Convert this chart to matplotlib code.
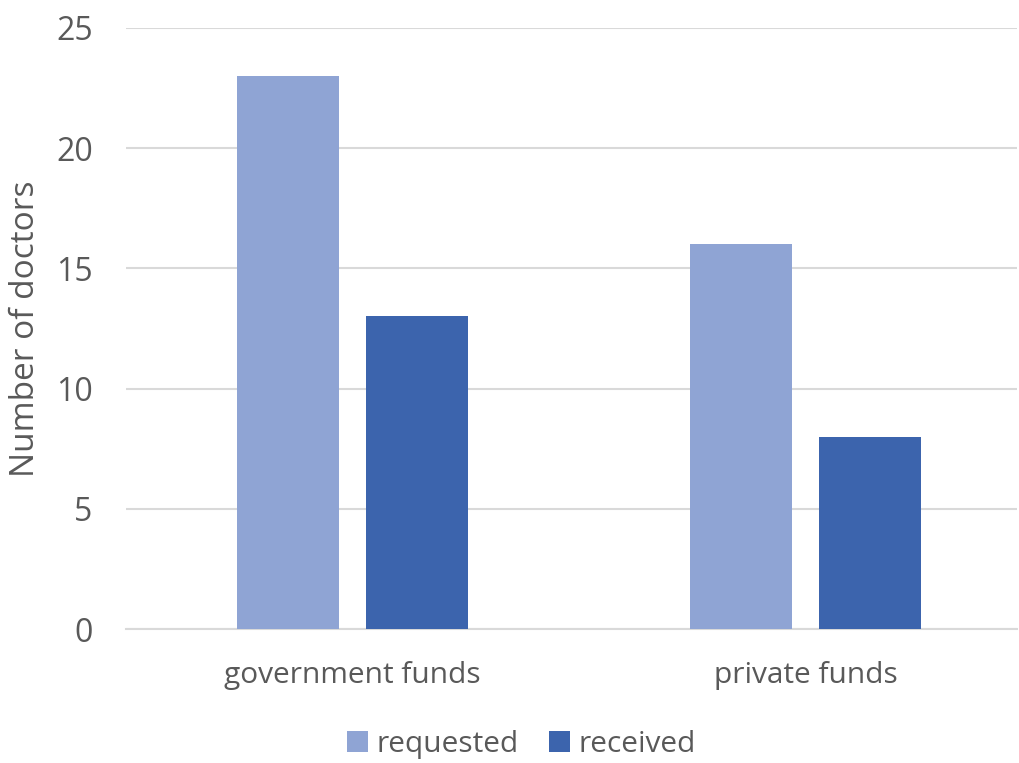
import matplotlib.pyplot as plt
import numpy as np

categories = ["government funds", "private funds"]
requested = [23, 16]
received = [13, 8]

plt.rcParams['font.family'] = ['Open Sans', 'DejaVu Sans']
grey = '#595959'

fig = plt.figure(figsize=[10.19, 7.63], dpi=100)
ax = fig.add_axes((126/1019, 134/763, 891/1019, 601/763))

x = np.arange(len(categories))
w = 0.225
ax.bar(x - 0.142, requested, w, color='#8FA4D4', label='requested', zorder=3)
ax.bar(x + 0.142, received, w, color='#3C64AD', label='received', zorder=3)

ax.set_xlim(-0.5, 1.467)
ax.set_ylim(0, 25)
ax.set_yticks([0, 5, 10, 15, 20, 25])
ax.set_xticks(x)
ax.set_xticklabels(categories)
ax.yaxis.grid(True, color='#D9D9D9', lw=1.5, zorder=0)
for s in ['top', 'right', 'left']:
    ax.spines[s].set_visible(False)
ax.spines['bottom'].set_color('#D9D9D9')
ax.spines['bottom'].set_linewidth(1.5)
ax.tick_params(axis='both', length=0, colors=grey)
ax.tick_params(axis='y', pad=24, labelsize=23)
ax.tick_params(axis='x', pad=23, labelsize=21.5)
ax.set_ylabel('Number of doctors', fontsize=24, color=grey, labelpad=10)

fig.legend(loc='center', bbox_to_anchor=(0.512, 0.024), ncol=2, frameon=False,
           fontsize=21.5, labelcolor=grey, handlelength=0.7, handleheight=0.7,
           handletextpad=0.3, columnspacing=1.0)

fig.savefig('out.png', dpi=100)
